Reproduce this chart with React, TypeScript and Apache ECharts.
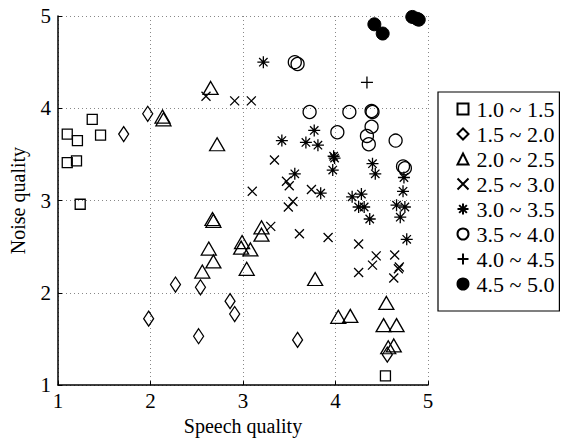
import React, { useEffect, useRef } from "react";
import * as echarts from "echarts";

const legendNames = ["1.0 ~ 1.5", "1.5 ~ 2.0", "2.0 ~ 2.5", "2.5 ~ 3.0", "3.0 ~ 3.5", "3.5 ~ 4.0", "4.0 ~ 4.5", "4.5 ~ 5.0"];

const squares = [[1.10, 3.72], [1.21, 3.65], [1.37, 3.88], [1.46, 3.71], [1.10, 3.41], [1.20, 3.43], [1.24, 2.96], [4.54, 1.10]];
const diamonds = [[1.71, 3.72], [1.97, 3.94], [1.98, 1.72], [2.27, 2.09], [2.54, 2.06], [2.52, 1.53], [2.86, 1.91], [2.91, 1.77], [3.59, 1.49], [4.56, 1.33]];
const triangles = [[2.65, 4.22], [2.13, 3.91], [2.14, 3.88], [2.72, 3.61], [2.67, 2.80], [2.68, 2.78], [2.63, 2.48], [2.68, 2.34], [2.56, 2.23], [3.20, 2.71], [3.20, 2.63], [2.99, 2.55], [2.98, 2.49], [3.08, 2.47], [3.04, 2.26], [3.78, 2.15], [4.03, 1.74], [4.16, 1.75], [4.55, 1.89], [4.52, 1.65], [4.66, 1.65], [4.57, 1.41], [4.63, 1.43]];
const crosses = [[2.60, 4.13], [2.91, 4.08], [3.09, 4.08], [3.34, 3.44], [3.47, 3.21], [3.50, 3.16], [3.10, 3.10], [3.74, 3.12], [3.49, 2.93], [3.54, 2.99], [3.30, 2.72], [3.61, 2.64], [3.92, 2.60], [4.25, 2.53], [4.44, 2.40], [4.40, 2.30], [4.64, 2.41], [4.25, 2.22], [4.69, 2.28], [4.68, 2.26], [4.63, 2.16]];
const asterisks = [[3.22, 4.50], [3.77, 3.76], [3.42, 3.65], [3.68, 3.63], [3.81, 3.60], [3.98, 3.48], [3.99, 3.46], [3.97, 3.33], [3.56, 3.29], [3.84, 3.08], [4.18, 3.04], [4.28, 3.07], [4.40, 3.40], [4.43, 3.29], [4.74, 3.25], [4.73, 3.10], [4.25, 2.93], [4.31, 2.93], [4.66, 2.95], [4.75, 2.93], [4.70, 2.82], [4.37, 2.80], [4.77, 2.58]];
const circles = [[3.56, 4.50], [3.59, 4.48], [3.72, 3.96], [4.15, 3.96], [4.39, 3.97], [4.40, 3.96], [4.39, 3.80], [4.02, 3.74], [4.34, 3.70], [4.36, 3.61], [4.65, 3.65], [4.73, 3.37], [4.75, 3.35]];
const pluses = [[4.34, 4.28]];
const filled = [[4.42, 4.91], [4.51, 4.81], [4.83, 4.99], [4.88, 4.97], [4.90, 4.96]];

const xTicks = [1, 2, 3, 4, 5];
const yTicks = [1, 2, 3, 4, 5];

const FONT = "'Times New Roman', 'Liberation Serif', serif";

export default function App() {
  const ref = useRef<HTMLDivElement>(null);
  useEffect(() => {
    if (!ref.current) return;
    const chart = echarts.init(ref.current, null, { renderer: "svg" });
    const hollow = (color: string) => ({ color: "none", borderColor: color, borderWidth: 1.3, opacity: 1 });
    const mk = (name: string, data: number[][], symbol: string, size: any, style: any) => ({
      type: "scatter",
      name,
      data,
      symbol,
      symbolSize: size,
      itemStyle: style,
      clip: false,
    });
    const xPath = "path://M0,0L10,10M10,0L0,10";
    const starPath = "path://M0,5L10,5M5,0L5,10M1.5,1.5L8.5,8.5M8.5,1.5L1.5,8.5";
    const plusPath = "path://M0,5L10,5M5,0L5,10";
    const option = {
      animation: false,
      textStyle: { fontFamily: FONT },
      grid: { left: 53, top: 16, right: 138, bottom: 55 },
      xAxis: {
        type: "value",
        min: xTicks[0],
        max: xTicks[xTicks.length - 1],
        interval: 1,
        name: "Speech quality",
        nameLocation: "middle",
        nameGap: 27,
        nameTextStyle: { fontFamily: FONT, fontSize: 20, color: "#000" },
        axisLine: { show: true, onZero: false, lineStyle: { color: "#000", width: 1.5 } },
        axisTick: { show: true, inside: true, length: 4, lineStyle: { color: "#000" } },
        axisLabel: { fontFamily: FONT, fontSize: 21, color: "#000", margin: 5 },
        splitLine: { show: true, lineStyle: { color: "#888", type: [1, 3], width: 1 } },
      },
      yAxis: {
        type: "value",
        min: yTicks[0],
        max: yTicks[yTicks.length - 1],
        interval: 1,
        name: "Noise quality",
        nameLocation: "middle",
        nameGap: 30,
        nameTextStyle: { fontFamily: FONT, fontSize: 20, color: "#000" },
        axisLine: { show: true, onZero: false, lineStyle: { color: "#000", width: 1.5 } },
        axisTick: { show: true, inside: true, length: 4, lineStyle: { color: "#000" } },
        axisLabel: { fontFamily: FONT, fontSize: 21, color: "#000", margin: 7 },
        splitLine: { show: true, lineStyle: { color: "#888", type: [1, 3], width: 1 } },
      },
      legend: {
        left: 438,
        top: 92,
        orient: "vertical",
        data: legendNames,
        itemWidth: 11,
        itemHeight: 11,
        itemGap: 3,
        padding: [6, 5, 16, 17],
        borderColor: "#000",
        borderWidth: 1.2,
        textStyle: { fontFamily: FONT, fontSize: 22, color: "#000", padding: [0, 0, 0, 3] },
      },
      series: [
        mk(legendNames[0], squares, "rect", [10, 10], hollow("#000")),
        mk(legendNames[1], diamonds, "diamond", [10, 15], hollow("#000")),
        mk(legendNames[2], triangles, "triangle", [15, 13], hollow("#000")),
        mk(legendNames[3], crosses, xPath, [9, 9], hollow("#000")),
        mk(legendNames[4], asterisks, starPath, [12, 12], hollow("#000")),
        mk(legendNames[5], circles, "circle", [13, 13], hollow("#000")),
        mk(legendNames[6], pluses, plusPath, [12, 12], hollow("#000")),
        mk(legendNames[7], filled, "circle", [13, 13], { color: "#000", borderColor: "#000", borderWidth: 1, opacity: 1 }),
      ],
    };
    chart.setOption(option as any);
    return () => chart.dispose();
  }, []);
  return <div ref={ref} style={{ width: 566, height: 441, position: "absolute", left: 0, top: 0, background: "#fff" }} />;
}
